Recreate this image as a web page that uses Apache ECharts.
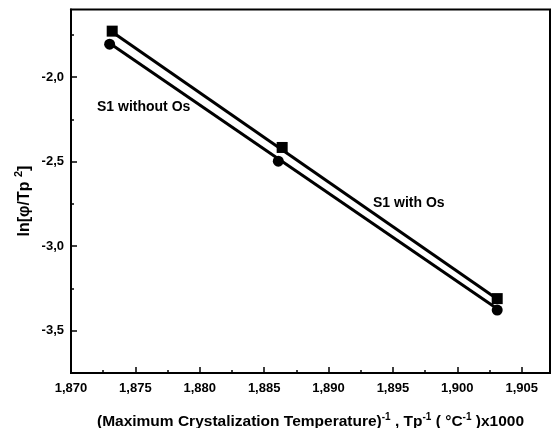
<!DOCTYPE html>
<html>
<head>
<meta charset="utf-8">
<script src="https://cdn.jsdelivr.net/npm/echarts@6/dist/echarts.min.js"></script>
<style>html,body{margin:0;padding:0;background:#fff}#c{width:554px;height:428px}</style>
</head>
<body>
<div id="c"></div>
<script>
// ---- data ----
const squareX = [1.8732, 1.8864, 1.9031];
const squareY = [-1.728, -2.416, -3.310];
const circleX = [1.8730, 1.8861, 1.9031];
const circleY = [-1.805, -2.497, -3.378];
const fitSquareX = [1.8732, 1.9031];
const fitSquareY = [-1.733, -3.312];
const fitCircleX = [1.8730, 1.9031];
const fitCircleY = [-1.800, -3.370];
const xTicks = [1.870, 1.875, 1.880, 1.885, 1.890, 1.895, 1.900, 1.905];
const xMinorTicks = [1.8725, 1.8775, 1.8825, 1.8875, 1.8925, 1.8975, 1.9025];
const yTicks = [-3.5, -3.0, -2.5, -2.0];
const yMinorTicks = [-3.25, -2.75, -2.25, -1.75];
const labelWithout = 'S1 without Os';
const labelWith = 'S1 with Os';

const pairs = (xs, ys) => xs.map((x, i) => [x, ys[i]]);
const FONT = '"Liberation Sans", Arial, sans-serif';
const xMin = 1.870, xMax = 1.9072, yMin = -3.75, yMax = -1.6;

const chart = echarts.init(document.getElementById('c'), null, {renderer: 'canvas'});
const baseX = {type: 'value', min: xMin, max: xMax, position: 'bottom', splitLine: {show: false}};
const baseY = {type: 'value', min: yMin, max: yMax, position: 'left', splitLine: {show: false}};
chart.setOption({
  animation: false,
  backgroundColor: '#fff',
  grid: {left: 71, right: 4, top: 9.5, bottom: 55, show: true, borderColor: '#000', borderWidth: 2,
    containLabel: false, outerBoundsMode: 'none'},
  xAxis: [
    Object.assign({}, baseX, {
      axisLine: {show: true, lineStyle: {color: '#000', width: 2}},
      axisTick: {show: true, inside: true, length: 6, lineStyle: {color: '#000', width: 1.5}, customValues: xTicks},
      axisLabel: {show: true, customValues: xTicks, color: '#000', fontFamily: FONT, fontWeight: 'bold', fontSize: 13, margin: 9,
        formatter: v => v.toFixed(3).replace('.', ',')},
      name: '{t|(Maximum Crystalization Temperature)}{s|-1}{t| , Tp}{s|-1}{t| ( °C}{s|-1}{t| )x1000}',
      nameLocation: 'middle', nameGap: 39,
      nameTextStyle: {rich: {
        t: {fontFamily: FONT, fontWeight: 'bold', fontSize: 15.5, color: '#000', lineHeight: 18, verticalAlign: 'bottom'},
        s: {fontFamily: FONT, fontWeight: 'bold', fontSize: 10, color: '#000', lineHeight: 18, verticalAlign: 'top'}
      }}
    }),
    Object.assign({}, baseX, {
      axisLine: {show: false},
      axisTick: {show: true, inside: true, length: 3, lineStyle: {color: '#000', width: 1.5}, customValues: xMinorTicks},
      axisLabel: {show: false}
    })
  ],
  yAxis: [
    Object.assign({}, baseY, {
      axisLine: {show: true, lineStyle: {color: '#000', width: 2}},
      axisTick: {show: true, inside: true, length: 6, lineStyle: {color: '#000', width: 1.5}, customValues: yTicks},
      axisLabel: {show: true, customValues: yTicks, color: '#000', fontFamily: FONT, fontWeight: 'bold', fontSize: 13, margin: 7,
        formatter: v => v.toFixed(1).replace('.', ',')}
    }),
    Object.assign({}, baseY, {
      axisLine: {show: false},
      axisTick: {show: true, inside: true, length: 3, lineStyle: {color: '#000', width: 1.5}, customValues: yMinorTicks},
      axisLabel: {show: false}
    })
  ],
  series: [
    {type: 'line', data: pairs(fitSquareX, fitSquareY), showSymbol: false, symbol: 'none',
      lineStyle: {color: '#000', width: 3}, z: 2},
    {type: 'line', data: pairs(fitCircleX, fitCircleY), showSymbol: false, symbol: 'none',
      lineStyle: {color: '#000', width: 3}, z: 2},
    {type: 'scatter', data: pairs(squareX, squareY), symbol: 'rect', symbolSize: 11,
      itemStyle: {color: '#000', opacity: 1}, z: 3},
    {type: 'scatter', data: pairs(circleX, circleY), symbol: 'circle', symbolSize: 11,
      itemStyle: {color: '#000', opacity: 1}, z: 3}
  ],
  graphic: [
    {type: 'text', x: 97, y: 107, style: {text: labelWithout, fill: '#000', font: 'bold 14px ' + FONT, verticalAlign: 'middle'}},
    {type: 'text', x: 373, y: 203, style: {text: labelWith, fill: '#000', font: 'bold 14px ' + FONT, verticalAlign: 'middle'}},
    {type: 'text', x: 23, y: 201, rotation: Math.PI / 2,
      style: {text: '{t|ln[φ/Tp }{s|2}{t|]}', align: 'center', verticalAlign: 'middle',
        rich: {
          t: {fontFamily: FONT, fontWeight: 'bold', fontSize: 16, fill: '#000', lineHeight: 20, verticalAlign: 'bottom'},
          s: {fontFamily: FONT, fontWeight: 'bold', fontSize: 11, fill: '#000', lineHeight: 20, verticalAlign: 'top'}
        }}}
  ]
});
</script>
</body>
</html>
